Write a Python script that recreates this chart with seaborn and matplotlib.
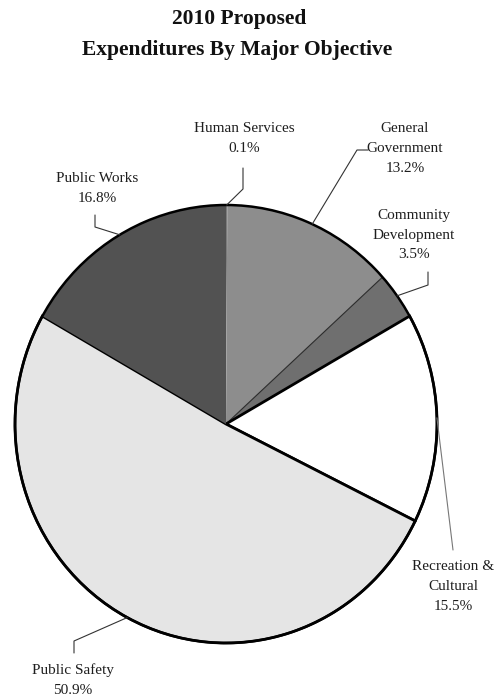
import numpy as np
import matplotlib
matplotlib.use("Agg")
import matplotlib.pyplot as plt
import seaborn as sns

# ---- data ----
categories = ["Human Services", "General\nGovernment", "Community\nDevelopment",
              "Recreation &\nCultural", "Public Safety", "Public Works"]
values = [0.1, 13.2, 3.5, 15.5, 50.9, 16.8]
title_lines = ["2010 Proposed", "Expenditures By Major Objective"]

# ---- style ----
sns.set_theme(style="white")
plt.rcParams["font.family"] = ["Liberation Serif", "DejaVu Serif"]

colors = ["#7c7c7c", "#8d8d8d", "#6f6f6f", "#ffffff", "#e5e5e5", "#525252"]

W, H = 496, 698
fig = plt.figure(figsize=(W / 100, H / 100), dpi=100)
fig.patch.set_facecolor("white")

# pie geometry in pixels (slightly oval, as in the scan)
cx, cy, rx, ry = 226, 424, 211, 219
ax = fig.add_axes([(cx - rx) / W, (H - (cy + ry)) / H, 2 * rx / W, 2 * ry / H])

wedges, _ = ax.pie(values, colors=colors, startangle=90, counterclock=False,
                   radius=1, wedgeprops=dict(linewidth=0, edgecolor="none"))
# boundaries as in the reference
wedges[2].set_edgecolor("#2a2a2a"); wedges[2].set_linewidth(0.8)
wedges[3].set_edgecolor("black"); wedges[3].set_linewidth(2.0)
wedges[4].set_edgecolor("black"); wedges[4].set_linewidth(2.0)
# outer rim
ax.pie([1], colors=["none"], radius=1,
       wedgeprops=dict(fill=False, edgecolor="black", linewidth=1.8))
ax.set_aspect("auto")
ax.set_xlim(-1, 1)
ax.set_ylim(-1, 1)
ax.axis("off")


def to_data(px, py):
    return (px - cx) / rx, (cy - py) / ry


# wedge mid angles (leader anchors)
mids = [(w.theta1 + w.theta2) / 2 for w in wedges]

# label layout (pixel positions of text centres, and leader elbow points)
label_pos = [(244, 139), (405, 149), (414, 235), (453, 587), (73, 680), (97, 189)]
elbows = [
    [(243, 168), (243, 189)],
    [(368, 150), (357, 150)],
    [(428, 272), (428, 285)],
    [(453, 550)],
    [(74, 653), (74, 641)],
    [(95, 215), (95, 227)],
]
leader_colors = ["#333333", "#333333", "#333333", "#777777", "#333333", "#333333"]

for i, (name, v) in enumerate(zip(categories, values)):
    lx, ly = label_pos[i]
    fig.text(lx / W, 1 - ly / H, f"{name}\n{v}%", ha="center", va="center",
             fontsize=11, color="#1e1e1e", linespacing=1.7)
    a = np.deg2rad(mids[i])
    pts = [to_data(*p) for p in elbows[i]] + [(np.cos(a), np.sin(a))]
    xs, ys = zip(*pts)
    ax.plot(xs, ys, color=leader_colors[i], lw=0.8, clip_on=False)

fig.text(239 / W, 1 - 19 / H, title_lines[0], ha="center", va="center",
         fontsize=15.5, fontweight="bold", color="#111111")
fig.text(237 / W, 1 - 50 / H, title_lines[1], ha="center", va="center",
         fontsize=15.5, fontweight="bold", color="#111111")

fig.savefig("out.png", dpi=100, facecolor="white")
